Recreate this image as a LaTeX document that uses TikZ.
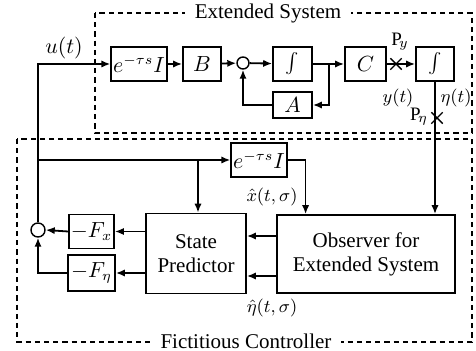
\documentclass[tikz,border=0pt]{standalone}
\usepackage{fontspec}
\setmainfont{Liberation Serif}
\usepackage{tikz}
\usetikzlibrary{arrows.meta,positioning,shapes.misc}

\newcommand{\bigint}{{\fontsize{14}{15}\selectfont$\int$}}

\begin{document}
\begin{tikzpicture}[
    x=0.5pt, y=-0.5pt,
    font=\fontsize{10.5}{12}\selectfont,
    blk/.style={draw, line width=0.8pt, minimum height=17pt, inner sep=1pt, align=center},
    sumpt/.style={draw, circle, line width=0.7pt, minimum size=6pt, inner sep=0pt},
    crs/.style={draw, cross out, line width=0.7pt, minimum size=5pt, inner sep=0pt},
    sig/.style={line width=0.9pt, -{Latex[length=4.5pt, width=3.6pt]}},
    frame/.style={dashed, dash pattern=on 2.6pt off 2pt, line width=0.8pt},
    ttl/.style={fill=white, inner sep=1pt, inner xsep=5pt},
    lbl/.style={inner sep=0.5pt, font=\fontsize{9.5}{11}\selectfont}
]
\useasboundingbox (0,0) rectangle (476,351);

% dashed frames
\draw[frame] (95,13) rectangle (472,133);
\draw[frame] (17,139) rectangle (472,342);
\node[ttl] (ttlext) at (268,13) {Extended System};
\node[ttl] (ttlctl) at (246,341) {Fictitious Controller};

% extended system
\node[blk, minimum width=24pt] (dly) at (139,64) {$e^{-\tau s}I$};
\node[blk, minimum width=19pt] (bmat) at (202,64) {$B$};
\node[sumpt] (sumx) at (243,63) {};
\node[blk, minimum width=19.5pt] (intx) at (292.5,64) {\bigint};
\node[blk, minimum width=20.5pt] (cmat) at (365.5,64) {$C$};
\node[blk, minimum width=19.5pt, minimum height=13pt] (amat) at (292.5,105) {$A$};
\node[blk, minimum width=19pt] (inty) at (435,64) {\bigint};
\node[crs] (py) at (396,64) {};
\node[crs] (peta) at (437,118) {};

% fictitious controller
\node[blk, minimum width=24pt] (dlyc) at (259,160) {$e^{-\tau s}I$};
\node[blk, minimum width=50pt, minimum height=40pt] (pred) at (196,253.5) {State\\Predictor};
\node[blk, minimum width=89pt, minimum height=39pt] (obs) at (366,254) {Observer for\\Extended System};
\node[blk, minimum width=22.5pt] (fx) at (91.5,231.5) {$-F_x$};
\node[blk, minimum width=23.5pt, minimum height=18pt] (feta) at (91.5,273) {$-F_\eta$};
\node[sumpt, minimum size=7pt] (sumu) at (38,230) {};

% labels
\node[lbl, font=\fontsize{10.5}{12}\selectfont] (lu) at (64,48) {$u(t)$};
\node[lbl] (lpy) at (400,42) {$\mathrm{P}_{\!y}$};
\node[lbl] (lyt) at (398,98) {$y(t)$};
\node[lbl] (leta) at (456,98) {$\eta(t)$};
\node[lbl] (lpeta) at (419,117) {$\mathrm{P}_{\!\eta}$};
\node[lbl] (lxh) at (272,197) {$\hat{x}(t,\sigma)$};
\node[lbl] (leh) at (272,308) {$\hat{\eta}(t,\sigma)$};

\coordinate (ubr) at (38,160);
\coordinate (xbr) at (329,64);
\coordinate (pbr) at (198,160);

% plant loop
\draw[sig] (sumu.north) |- (dly.west);
\draw[sig] (ubr) -- (dlyc.west);
\draw[sig] (dly) -- (bmat);
\draw[sig] (bmat) -- (sumx);
\draw[sig] (sumx) -- (intx);
\draw[sig] (intx) -- (cmat);
\draw[sig] (xbr) |- (amat.east);
\draw[sig] (amat.west) -| (sumx.south);
\draw[sig] (cmat) -- (inty);
\draw[sig] (inty.south) -- (inty.south |- obs.north);

% controller
\draw[sig] (pbr) -- (pbr |- pred.north);
\draw[sig] (dlyc.east) -- ++(18,0) coordinate (xin) -- (xin |- obs.north);
\draw[sig] ([yshift=9pt]obs.west) -- ([yshift=9pt]pred.east |- obs.west);
\draw[sig] ([yshift=-11pt]obs.west) -- ([yshift=-11pt]pred.east |- obs.west);
\draw[sig] (pred.west |- fx.east) -- (fx.east);
\draw[sig] (pred.west |- feta.east) -- (feta.east);
\draw[sig] (fx.west) -- (sumu.east);
\draw[sig] (feta.west) -| (sumu.south);
\end{tikzpicture}
\end{document}
